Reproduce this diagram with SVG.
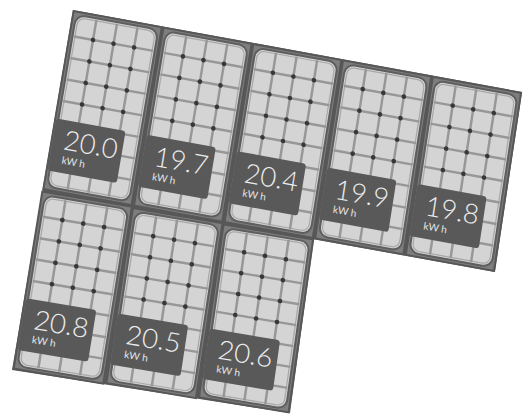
<svg xmlns="http://www.w3.org/2000/svg" xmlns:xlink="http://www.w3.org/1999/xlink" width="524" height="418" viewBox="0 0 524 418">
  <style>
    .frame { fill: #7e7e7e; stroke: #575757; stroke-width: 2; }
    .ring { fill: #d4d4d4; stroke: #5e5e5e; stroke-width: 2; }
    .inner { fill: none; stroke: #a8a8a8; stroke-width: 1.2; }
    .grid { stroke: #979797; stroke-width: 2.4; fill: none; }
    .dot { fill: #383838; }
    .lbl { fill: #595959; }
    .num { font-family: "Lato", "Open Sans", "DejaVu Sans", sans-serif; font-weight: 300; font-size: 27px; fill: #ececec; }
    .unit { font-family: "Lato", "Open Sans", "DejaVu Sans", sans-serif; font-weight: 400; font-size: 10px; fill: #e4e4e4; }
  </style>
  <defs>
    <g id="panelBase">
      <rect class="frame" x="1" y="1" width="88" height="178"/>
      <rect class="ring" x="4" y="4" width="82" height="172" rx="9"/>
      <rect class="inner" x="6.5" y="6.5" width="77" height="167" rx="7"/>
      <path class="grid" d="M24.5 5.5V174.5M45 5.5V174.5M65.5 5.5V174.5M5.5 25.5H84.5M5.5 47H84.5M5.5 68.5H84.5M5.5 90H84.5M5.5 111.5H84.5M5.5 133H84.5M5.5 154.5H84.5"/>
      <g class="dot">
        <circle cx="24.5" cy="25.5" r="2.3"/><circle cx="45" cy="25.5" r="2.3"/><circle cx="65.5" cy="25.5" r="2.3"/>
        <circle cx="24.5" cy="47" r="2.3"/><circle cx="45" cy="47" r="2.3"/><circle cx="65.5" cy="47" r="2.3"/>
        <circle cx="24.5" cy="68.5" r="2.3"/><circle cx="45" cy="68.5" r="2.3"/><circle cx="65.5" cy="68.5" r="2.3"/>
        <circle cx="24.5" cy="90" r="2.3"/><circle cx="45" cy="90" r="2.3"/><circle cx="65.5" cy="90" r="2.3"/>
        <circle cx="24.5" cy="111.5" r="2.3"/><circle cx="45" cy="111.5" r="2.3"/><circle cx="65.5" cy="111.5" r="2.3"/>
        <circle cx="24.5" cy="133" r="2.3"/><circle cx="45" cy="133" r="2.3"/><circle cx="65.5" cy="133" r="2.3"/>
        <circle cx="24.5" cy="154.5" r="2.3"/><circle cx="45" cy="154.5" r="2.3"/><circle cx="65.5" cy="154.5" r="2.3"/>
      </g>
    </g>
  </defs>

  <g id="array-background">
    <polygon points="73,10 522,92 495,272 313.8,239.2 290,413 12,370" fill="#5a5a5a"/>
  </g>

  <g id="panel-1" transform="matrix(1.0022 0.1822 -0.1700 1 72.8 10)">
    <use xlink:href="#panelBase"/>
    <rect class="lbl" x="2" y="108" width="69" height="52" rx="3"/>
    <text class="num" x="13" y="137">20.0</text>
    <text class="unit" x="14" y="151">kW h</text>
  </g>
  <g id="panel-2" transform="matrix(1.0022 0.1822 -0.16556 1 162.6 26.4)">
    <use xlink:href="#panelBase"/>
    <rect class="lbl" x="2" y="108" width="69" height="52" rx="3"/>
    <text class="num" x="13" y="137">19.7</text>
    <text class="unit" x="14" y="151">kW h</text>
  </g>
  <g id="panel-3" transform="matrix(1.0022 0.1822 -0.16111 1 252.4 42.8)">
    <use xlink:href="#panelBase"/>
    <rect class="lbl" x="2" y="108" width="69" height="52" rx="3"/>
    <text class="num" x="13" y="137">20.4</text>
    <text class="unit" x="14" y="151">kW h</text>
  </g>
  <g id="panel-4" transform="matrix(1.0022 0.1822 -0.15667 1 342.2 59.2)">
    <use xlink:href="#panelBase"/>
    <rect class="lbl" x="2" y="108" width="69" height="52" rx="3"/>
    <text class="num" x="13" y="137">19.9</text>
    <text class="unit" x="14" y="151">kW h</text>
  </g>
  <g id="panel-5" transform="matrix(1.0022 0.1822 -0.15222 1 432.0 75.6)">
    <use xlink:href="#panelBase"/>
    <rect class="lbl" x="2" y="108" width="69" height="52" rx="3"/>
    <text class="num" x="13" y="137">19.8</text>
    <text class="unit" x="14" y="151">kW h</text>
  </g>
  <g id="panel-6" transform="matrix(1.0181 0.1708 -0.16094 0.99428 41.48 190.52)">
    <use xlink:href="#panelBase"/>
    <rect class="lbl" x="2" y="108" width="69" height="52" rx="3"/>
    <text class="num" x="13" y="137">20.8</text>
    <text class="unit" x="14" y="151">kW h</text>
  </g>
  <g id="panel-7" transform="matrix(1.0181 0.1708 -0.14944 0.98278 132.08 206.92)">
    <use xlink:href="#panelBase"/>
    <rect class="lbl" x="2" y="108" width="69" height="52" rx="3"/>
    <text class="num" x="13" y="137">20.5</text>
    <text class="unit" x="14" y="151">kW h</text>
  </g>
  <g id="panel-8" transform="matrix(1.0181 0.1708 -0.13794 0.97128 222.68 223.32)">
    <use xlink:href="#panelBase"/>
    <rect class="lbl" x="2" y="108" width="69" height="52" rx="3"/>
    <text class="num" x="13" y="137">20.6</text>
    <text class="unit" x="14" y="151">kW h</text>
  </g>
</svg>
